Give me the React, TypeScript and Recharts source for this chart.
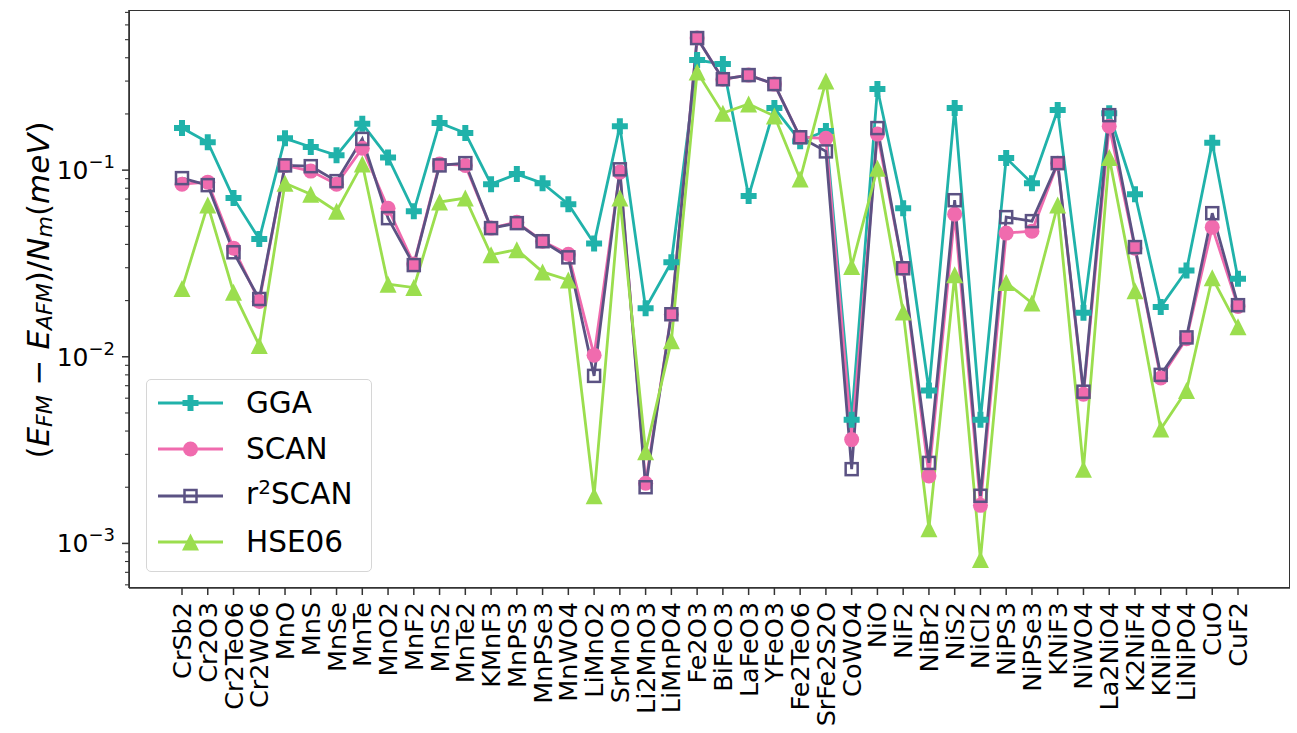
import { LineChart, Line, XAxis, YAxis } from 'recharts';

const categories = [
  'CrSb2', 'Cr2O3', 'Cr2TeO6', 'Cr2WO6', 'MnO', 'MnS', 'MnSe', 'MnTe', 'MnO2', 'MnF2',
  'MnS2', 'MnTe2', 'KMnF3', 'MnPS3', 'MnPSe3', 'MnWO4', 'LiMnO2', 'SrMnO3', 'Li2MnO3', 'LiMnPO4',
  'Fe2O3', 'BiFeO3', 'LaFeO3', 'YFeO3', 'Fe2TeO6', 'SrFe2S2O', 'CoWO4', 'NiO', 'NiF2', 'NiBr2',
  'NiS2', 'NiCl2', 'NiPS3', 'NiPSe3', 'KNiF3', 'NiWO4', 'La2NiO4', 'K2NiF4', 'KNiPO4', 'LiNiPO4',
  'CuO', 'CuF2',
];

const gga = [
  0.168, 0.141, 0.0708, 0.0427, 0.148, 0.133, 0.120, 0.177, 0.117, 0.0603,
  0.179, 0.158, 0.0841, 0.0952, 0.0851, 0.0657, 0.0405, 0.172, 0.0182, 0.0321,
  0.389, 0.370, 0.0726, 0.215, 0.143, 0.162, 0.0046, 0.272, 0.0625, 0.0066,
  0.215, 0.0046, 0.116, 0.0851, 0.210, 0.0172, 0.202, 0.0743, 0.0185, 0.0290,
  0.140, 0.0262,
];

const scan = [
  0.0841, 0.0862, 0.0382, 0.0198, 0.106, 0.0988, 0.0841, 0.131, 0.0625, 0.0314,
  0.108, 0.106, 0.0489, 0.0526, 0.0416, 0.0354, 0.0102, 0.0976, 0.0021, 0.0169,
  0.51, 0.307, 0.323, 0.289, 0.150, 0.148, 0.0036, 0.156, 0.0298, 0.0023,
  0.0581, 0.0016, 0.046, 0.0471, 0.109, 0.0063, 0.172, 0.0382, 0.0077, 0.0125,
  0.0495, 0.0186,
];

const r2scan = [
  0.0906, 0.0831, 0.0363, 0.0204, 0.106, 0.105, 0.0873, 0.147, 0.0553, 0.0310,
  0.106, 0.109, 0.0489, 0.0520, 0.0416, 0.0341, 0.0079, 0.101, 0.0020, 0.0169,
  0.51, 0.307, 0.323, 0.289, 0.150, 0.126, 0.0025, 0.168, 0.0298, 0.0027,
  0.069, 0.0018, 0.056, 0.0533, 0.109, 0.0065, 0.197, 0.0387, 0.0080, 0.0127,
  0.0588, 0.0189,
];

const hse06 = [
  0.0232, 0.065, 0.0222, 0.0115, 0.0851, 0.0743, 0.0603, 0.108, 0.0245, 0.0235,
  0.0674, 0.0708, 0.0352, 0.0375, 0.0285, 0.0258, 0.0018, 0.0708, 0.0031, 0.0122,
  0.336, 0.202, 0.226, 0.195, 0.0895, 0.30, 0.0305, 0.1025, 0.0174, 0.0012,
  0.0275, 0.00082, 0.025, 0.0194, 0.065, 0.0025, 0.117, 0.0226, 0.0041, 0.0066,
  0.0265, 0.0145,
];

const yDomain = [5.77e-4, 0.721];
const yTicks = [
  6e-4, 7e-4, 8e-4, 9e-4, 1e-3, 2e-3, 3e-3, 4e-3, 5e-3, 6e-3, 7e-3, 8e-3, 9e-3,
  1e-2, 2e-2, 3e-2, 4e-2, 5e-2, 6e-2, 7e-2, 8e-2, 9e-2, 0.1, 0.2, 0.3, 0.4, 0.5, 0.6, 0.7,
];

const COLORS = { gga: '#20B2AA', scan: '#F06BAE', r2scan: '#5B5283', hse06: '#9BDE4E' };
const FONT = 'DejaVu Sans';
const AXIS = { stroke: '#333', strokeWidth: 1.6 };

const data = categories.map((name, i) => ({
  name,
  gga: gga[i],
  scan: scan[i],
  r2scan: r2scan[i],
  hse06: hse06[i],
}));

// marker shapes (matplotlib P, o, open s, ^)
const plusPath = (cx, cy, a = 8, t = 3) =>
  `M${cx - t},${cy - a}H${cx + t}V${cy - t}H${cx + a}V${cy + t}H${cx + t}V${cy + a}H${cx - t}V${cy + t}H${cx - a}V${cy - t}H${cx - t}Z`;

const PlusDot = ({ cx, cy }) => <path d={plusPath(cx, cy)} fill={COLORS.gga} />;
const CircleDot = ({ cx, cy }) => <circle cx={cx} cy={cy} r={7.5} fill={COLORS.scan} />;
const SquareDot = ({ cx, cy }) => (
  <rect x={cx - 6} y={cy - 6} width={12} height={12} fill="none" stroke={COLORS.r2scan} strokeWidth={2.5} />
);
const TriDot = ({ cx, cy }) => (
  <path d={`M${cx},${cy - 8.5}L${cx + 8.5},${cy + 8.5}L${cx - 8.5},${cy + 8.5}Z`} fill={COLORS.hse06} />
);

const XTick = ({ x, y, payload }) => (
  <g>
    <line x1={x} x2={x} y1={y} y2={y + 7} stroke="#333" strokeWidth={1.5} />
    <text
      x={x}
      y={y + 14}
      transform={`rotate(-90 ${x} ${y + 14})`}
      textAnchor="end"
      dominantBaseline="central"
      fontFamily={FONT}
      fontSize={25.5}
      fill="#000"
    >
      {payload.value}
    </text>
  </g>
);

const YTick = ({ x, y, payload }) => {
  const lg = Math.log10(payload.value);
  const major = Math.abs(lg - Math.round(lg)) < 1e-6;
  return (
    <g>
      <line x1={x - (major ? 7 : 4)} x2={x} y1={y} y2={y} stroke="#333" strokeWidth={major ? 1.5 : 1.1} />
      {major && (
        <text x={x - 14} y={y + 9} textAnchor="end" fontFamily={FONT} fontSize={25} fill="#000">
          <tspan>10</tspan>
          <tspan dy={-11} fontSize={18}>{'\u2212' + Math.abs(Math.round(lg))}</tspan>
        </text>
      )}
    </g>
  );
};

const YLabel = () => (
  <text
    x={38}
    y={290}
    transform="rotate(-90 38 290)"
    textAnchor="middle"
    dominantBaseline="central"
    fontFamily={FONT}
    fontSize={31}
    fill="#000"
  >
    <tspan>(</tspan>
    <tspan fontStyle="italic">E</tspan>
    <tspan fontStyle="italic" fontSize={22} dy={6}>FM</tspan>
    <tspan dy={-6}>{' \u2212 '}</tspan>
    <tspan fontStyle="italic">E</tspan>
    <tspan fontStyle="italic" fontSize={22} dy={6}>AFM</tspan>
    <tspan dy={-6}>)/</tspan>
    <tspan fontStyle="italic">N</tspan>
    <tspan fontStyle="italic" fontSize={22} dy={6}>m</tspan>
    <tspan dy={-6}>(</tspan>
    <tspan fontStyle="italic">meV</tspan>
    <tspan>)</tspan>
  </text>
);

const legendItems = [
  { label: 'GGA', color: COLORS.gga, Marker: PlusDot },
  { label: 'SCAN', color: COLORS.scan, Marker: CircleDot },
  { label: 'r2SCAN', color: COLORS.r2scan, Marker: SquareDot },
  { label: 'HSE06', color: COLORS.hse06, Marker: TriDot },
];

const LegendBox = () => (
  <div
    style={{
      position: 'absolute',
      left: 146,
      top: 379,
      width: 226,
      height: 193,
      border: '1.5px solid #d6d6d6',
      borderRadius: 5,
      background: 'rgba(255,255,255,0.85)',
      boxSizing: 'border-box',
      fontFamily: FONT,
      fontSize: 29.5,
    }}
  >
    {legendItems.map((it, i) => (
      <div key={it.label} style={{ position: 'absolute', left: 0, top: 3 + i * 46.3, height: 40, display: 'flex', alignItems: 'center' }}>
        <svg width={90} height={40} style={{ display: 'block' }}>
          <line x1={11} x2={76} y1={20} y2={20} stroke={it.color} strokeWidth={2.8} />
          <it.Marker cx={43.5} cy={20} />
        </svg>
        <span style={{ marginLeft: 9, color: '#000', lineHeight: '40px' }}>
          {it.label === 'r2SCAN' ? (
            <>
              r<span style={{ fontSize: 20, position: 'relative', top: -10 }}>2</span>SCAN
            </>
          ) : (
            it.label
          )}
        </span>
      </div>
    ))}
  </div>
);

export default function App() {
  return (
    <div style={{ position: 'absolute', left: 0, top: 0, width: 1297, height: 733, background: '#fff' }}>
      <LineChart width={1297} height={733} data={data} margin={{ top: 10, right: 7, bottom: 0, left: 0 }}>
        <XAxis
          dataKey="name"
          type="category"
          interval={0}
          padding={{ left: 53, right: 52 }}
          height={145}
          tickSize={0}
          tickMargin={0}
          tickLine={false}
          axisLine={AXIS}
          tick={<XTick />}
        />
        <YAxis
          scale="log"
          type="number"
          domain={yDomain}
          allowDataOverflow
          ticks={yTicks}
          interval={0}
          width={129}
          tickSize={0}
          tickMargin={0}
          tickLine={false}
          axisLine={AXIS}
          tick={<YTick />}
          label={<YLabel />}
        />
        <Line dataKey="gga" name="GGA" type="linear" stroke={COLORS.gga} strokeWidth={2.8} dot={(p) => <PlusDot key={'g' + p.index} cx={p.cx} cy={p.cy} />} activeDot={false} isAnimationActive={false} />
        <Line dataKey="scan" name="SCAN" type="linear" stroke={COLORS.scan} strokeWidth={2.8} dot={(p) => <CircleDot key={'s' + p.index} cx={p.cx} cy={p.cy} />} activeDot={false} isAnimationActive={false} />
        <Line dataKey="r2scan" name="r2SCAN" type="linear" stroke={COLORS.r2scan} strokeWidth={2.8} dot={(p) => <SquareDot key={'r' + p.index} cx={p.cx} cy={p.cy} />} activeDot={false} isAnimationActive={false} />
        <Line dataKey="hse06" name="HSE06" type="linear" stroke={COLORS.hse06} strokeWidth={2.8} dot={(p) => <TriDot key={'h' + p.index} cx={p.cx} cy={p.cy} />} activeDot={false} isAnimationActive={false} />
      </LineChart>
      {/* axes frame (top and right spines) */}
      <div
        style={{
          position: 'absolute',
          left: 129,
          top: 10,
          width: 1161,
          height: 578,
          border: '1.6px solid #333',
          boxSizing: 'border-box',
          pointerEvents: 'none',
        }}
      />
      <LegendBox />
    </div>
  );
}
